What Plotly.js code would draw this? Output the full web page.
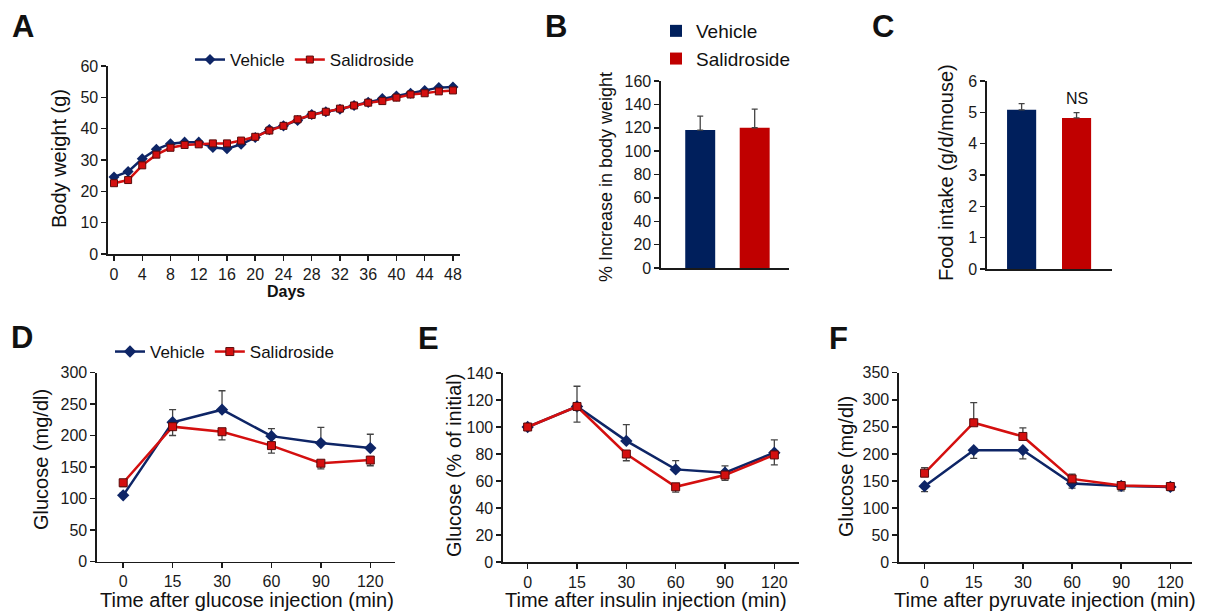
<!DOCTYPE html>
<html>
<head>
<meta charset="utf-8">
<script src="https://cdn.plot.ly/plotly-3.0.1.min.js"></script>
<style>html,body{margin:0;padding:0;background:#fff;}#chart{width:1210px;height:612px;}</style>
</head>
<body>
<div id="chart"></div>
<script>
// ---------- DATA ----------
const seriesNames = ["Vehicle", "Salidroside"];

// Panel A: body weight over days
const days = [0,2,4,6,8,10,12,14,16,18,20,22,24,26,28,30,32,34,36,38,40,42,44,46,48];
const bwVehicle = [24.6,26.3,30.4,33.4,35.2,35.7,35.7,34.0,33.6,35.0,37.2,39.7,40.9,42.6,44.5,45.4,46.2,47.4,48.4,49.6,50.4,51.3,52.2,53.1,53.3];
const bwSalid   = [22.6,23.6,28.3,31.7,33.9,34.8,35.0,35.3,35.3,36.2,37.4,39.4,40.9,43.0,44.4,45.4,46.4,47.4,48.3,48.8,49.9,50.9,51.3,51.9,52.2];

// Panel B: % increase in body weight
const pctIncrease = [118, 120];
const pctIncreaseErr = [12, 16];

// Panel C: food intake
const foodIntake = [5.08, 4.82];
const foodIntakeErr = [0.2, 0.17];

// Time categories for D/E/F
const timeLabels = ["0","15","30","60","90","120"];

// Panel D: GTT
const gttVehicle = [105, 221, 241, 199, 188, 180];
const gttVehicleErr = [4, 20, 30, 12, 25, 22];
const gttSalid = [125, 214, 206, 184, 156, 161];
const gttSalidErr = [6, 14, 13, 12, 9, 9];

// Panel E: ITT
const ittVehicle = [100, 115.2, 89.7, 68.6, 66.2, 81];
const ittVehicleErr = [2, 15, 12, 6.5, 5, 9.5];
const ittSalid = [100, 115.2, 80, 55.7, 64.4, 79.3];
const ittSalidErr = [2, 11.6, 5, 4, 4, 7.4];

// Panel F: PTT
const pttVehicle = [140.5, 207, 207, 145.4, 141, 139.2];
const pttVehicleErr = [10, 15, 16, 8.6, 9, 7];
const pttSalid = [164.5, 257.6, 232.3, 154, 141.7, 139.9];
const pttSalidErr = [10, 37, 16, 8.7, 6, 5];

// ---------- STYLE ----------
const W = 1210, H = 612;
const NAVY = "#0e2566", RED = "#d40f0f", NAVYBAR = "#001f5c", REDBAR = "#c00000";
const ERRC = "#444";
const FONT = "Liberation Sans, Arial, sans-serif";
const px = v => v / W;
const py = v => 1 - v / H;
const dom = (a, b) => [px(a), px(b)];
const domY = (top, bottom) => [py(bottom), py(top)];
const zeros = n => new Array(n).fill(0);

function axisBase(extra) {
  return Object.assign({
    showline: true, linecolor: "#1a1a1a", linewidth: 1.6,
    ticks: "outside", ticklen: 5, tickwidth: 1.5, tickcolor: "#1a1a1a",
    showgrid: false, zeroline: false, fixedrange: true,
    tickfont: {family: FONT, size: 16, color: "#1a1a1a"}
  }, extra);
}

function lineTrace(x, y, errUp, errDown, name, color, symbol, xa, ya, legend, show, msize) {
  return {
    type: "scatter", mode: "lines+markers", x: x, y: y, name: name,
    xaxis: xa, yaxis: ya, legend: legend, showlegend: show,
    line: {color: color, width: 2.5},
    marker: symbol === "diamond"
      ? {symbol: "diamond", size: msize + 1.5, color: color, line: {color: color, width: 0}}
      : {symbol: "square", size: msize, color: RED, line: {color: "#5a0b0b", width: 1}},
    error_y: errUp ? {type: "data", symmetric: false, array: errUp, arrayminus: errDown,
      color: ERRC, thickness: 1.3, width: 3.5, visible: true} : {visible: false}
  };
}

const traces = [];
// A
traces.push(lineTrace(days, bwVehicle, null, null, seriesNames[0], NAVY, "diamond", "x", "y", "legend", true, 7));
traces.push(lineTrace(days, bwSalid, null, null, seriesNames[1], RED, "square", "x", "y", "legend", true, 7));
// B
traces.push({type: "bar", x: [seriesNames[0]], y: [pctIncrease[0]], name: seriesNames[0], xaxis: "x2", yaxis: "y2",
  legend: "legend3", showlegend: true, width: 0.55, marker: {color: NAVYBAR},
  error_y: {type: "data", symmetric: false, array: [pctIncreaseErr[0]], arrayminus: [0], color: ERRC, thickness: 1.3, width: 3}});
traces.push({type: "bar", x: [seriesNames[1]], y: [pctIncrease[1]], name: seriesNames[1], xaxis: "x2", yaxis: "y2",
  legend: "legend3", showlegend: true, width: 0.55, marker: {color: REDBAR},
  error_y: {type: "data", symmetric: false, array: [pctIncreaseErr[1]], arrayminus: [0], color: ERRC, thickness: 1.3, width: 3}});
// C
traces.push({type: "bar", x: [seriesNames[0]], y: [foodIntake[0]], name: seriesNames[0], xaxis: "x3", yaxis: "y3",
  showlegend: false, width: 0.53, marker: {color: NAVYBAR},
  error_y: {type: "data", symmetric: false, array: [foodIntakeErr[0]], arrayminus: [0], color: ERRC, thickness: 1.3, width: 3}});
traces.push({type: "bar", x: [seriesNames[1]], y: [foodIntake[1]], name: seriesNames[1], xaxis: "x3", yaxis: "y3",
  showlegend: false, width: 0.53, marker: {color: REDBAR},
  error_y: {type: "data", symmetric: false, array: [foodIntakeErr[1]], arrayminus: [0], color: ERRC, thickness: 1.3, width: 3}});
// D
traces.push(lineTrace(timeLabels, gttVehicle, gttVehicleErr, zeros(6), seriesNames[0], NAVY, "diamond", "x4", "y4", "legend2", true, 8));
traces.push(lineTrace(timeLabels, gttSalid, zeros(6), gttSalidErr, seriesNames[1], RED, "square", "x4", "y4", "legend2", true, 8));
// E
traces.push(lineTrace(timeLabels, ittVehicle, ittVehicleErr, zeros(6), seriesNames[0], NAVY, "diamond", "x5", "y5", "legend", false, 8));
traces.push(lineTrace(timeLabels, ittSalid, zeros(6), ittSalidErr, seriesNames[1], RED, "square", "x5", "y5", "legend", false, 8));
// F
traces.push(lineTrace(timeLabels, pttVehicle, zeros(6), pttVehicleErr, seriesNames[0], NAVY, "diamond", "x6", "y6", "legend", false, 8));
traces.push(lineTrace(timeLabels, pttSalid, pttSalidErr, zeros(6), seriesNames[1], RED, "square", "x6", "y6", "legend", false, 8));

function ann(text, x, y, size, opts) {
  return Object.assign({text: text, xref: "paper", yref: "paper", x: px(x), y: py(y),
    xanchor: "center", yanchor: "middle", showarrow: false,
    font: {family: FONT, size: size, color: "#111"}}, opts || {});
}
const bold = t => "<b>" + t + "</b>";

const annotations = [
  ann(bold("A"), 23, 27, 31), ann(bold("B"), 556, 27, 31), ann(bold("C"), 883, 27, 31),
  ann(bold("D"), 22, 337, 31), ann(bold("E"), 428, 338, 31), ann(bold("F"), 838, 338, 31),
  ann("Body weight (g)", 59, 159, 20, {textangle: -90}),
  ann(bold("Days"), 286, 291, 16),
  ann("% Increase in body weight", 606, 177, 18, {textangle: -90}),
  ann("Food intake (g/d/mouse)", 946, 173, 20, {textangle: -90}),
  ann("Glucose (mg/dl)", 41, 459, 20, {textangle: -90}),
  ann("Time after glucose injection (min)", 247, 600, 20),
  ann("Glucose (% of initial)", 454, 466, 20, {textangle: -90}),
  ann("Time after insulin injection (min)", 646, 600, 20),
  ann("Glucose (mg/dl)", 846, 467, 20, {textangle: -90}),
  ann("Time after pyruvate injection (min)", 1045, 600, 20),
  {text: "NS", xref: "x3", yref: "y3", x: seriesNames[1], y: 5.43, showarrow: false,
   xanchor: "center", yanchor: "middle", font: {family: FONT, size: 16, color: "#111"}}
];

const layout = {
  width: W, height: H, margin: {l: 0, r: 0, t: 0, b: 0},
  paper_bgcolor: "#fff", plot_bgcolor: "rgba(0,0,0,0)",
  font: {family: FONT, color: "#111"},
  bargap: 0.2,
  // A
  xaxis: axisBase({domain: dom(108, 460), range: [-0.85, 49], tickmode: "linear", tick0: 0, dtick: 4, anchor: "y"}),
  yaxis: axisBase({domain: domY(66, 254), range: [0, 60], tickmode: "linear", tick0: 0, dtick: 10, anchor: "x"}),
  // B
  xaxis2: axisBase({domain: dom(661, 789), range: [-0.72, 1.63], type: "category", ticks: "", showticklabels: false, anchor: "y2"}),
  yaxis2: axisBase({domain: domY(81, 268), range: [0, 160], tickmode: "linear", tick0: 0, dtick: 20, anchor: "x2"}),
  // C
  xaxis3: axisBase({domain: dom(987, 1112), range: [-0.63, 1.645], type: "category", ticks: "", showticklabels: false, anchor: "y3"}),
  yaxis3: axisBase({domain: domY(81, 269), range: [0, 6], tickmode: "linear", tick0: 0, dtick: 1, anchor: "x3"}),
  // D
  xaxis4: axisBase({domain: dom(97, 395), range: [-0.53, 5.5], type: "category", anchor: "y4"}),
  yaxis4: axisBase({domain: domY(372.5, 561.5), range: [0, 300], tickmode: "linear", tick0: 0, dtick: 50, anchor: "x4"}),
  // E
  xaxis5: axisBase({domain: dom(503, 799), range: [-0.5, 5.5], type: "category", anchor: "y5"}),
  yaxis5: axisBase({domain: domY(373, 562), range: [0, 140], tickmode: "linear", tick0: 0, dtick: 20, anchor: "x5"}),
  // F
  xaxis6: axisBase({domain: dom(899, 1192), range: [-0.52, 5.44], type: "category", anchor: "y6"}),
  yaxis6: axisBase({domain: domY(372.7, 562.3), range: [0, 350], tickmode: "linear", tick0: 0, dtick: 50, anchor: "x6"}),
  legend: {orientation: "h", x: px(190), y: py(60), xanchor: "left", yanchor: "middle",
    font: {family: FONT, size: 17, color: "#111"}, bgcolor: "rgba(0,0,0,0)", itemclick: false},
  legend2: {orientation: "h", x: px(110), y: py(352), xanchor: "left", yanchor: "middle",
    font: {family: FONT, size: 17, color: "#111"}, bgcolor: "rgba(0,0,0,0)", itemclick: false},
  legend3: {orientation: "v", x: px(656), y: py(45), xanchor: "left", yanchor: "middle",
    font: {family: FONT, size: 19, color: "#111"}, bgcolor: "rgba(0,0,0,0)", itemclick: false, tracegroupgap: 0},
  annotations: annotations,
  showlegend: true
};

Plotly.newPlot("chart", traces, layout, {staticPlot: true, displayModeBar: false});
</script>
</body>
</html>
